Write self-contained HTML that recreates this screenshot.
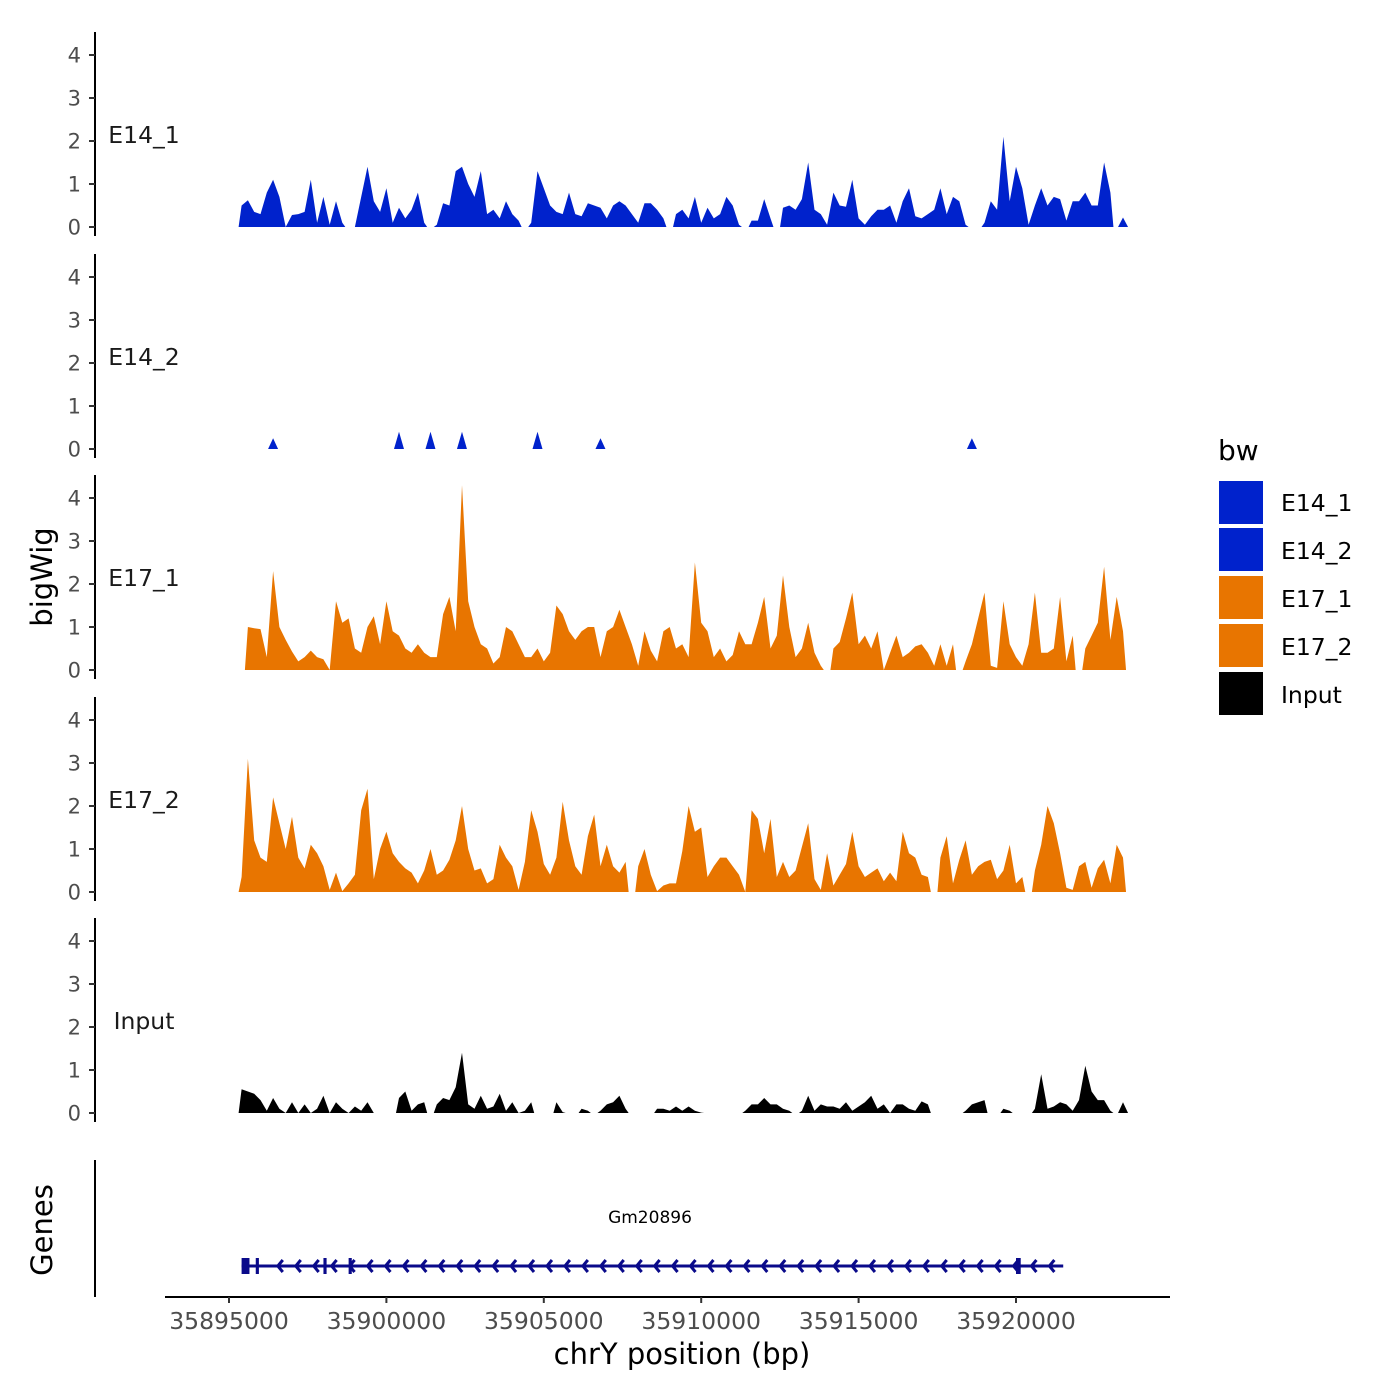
<!DOCTYPE html>
<html><head><meta charset="utf-8"><style>
body{margin:0;background:#fff;}
svg{display:block;font-family:"DejaVu Sans","Liberation Sans",sans-serif;}
</style></head><body>
<svg id="chart" width="1400" height="1400" viewBox="0 0 1400 1400" xmlns="http://www.w3.org/2000/svg">
<g id="tracks"></g>
<g id="genes"></g>
<g id="xaxis"></g>
<text x="52" y="577" font-size="29" text-anchor="middle" transform="rotate(-90 52 577)" fill="#000">bigWig</text>
<text x="52" y="1230" font-size="29" text-anchor="middle" transform="rotate(-90 52 1230)" fill="#000">Genes</text>
<text x="682" y="1364" font-size="29" text-anchor="middle" fill="#000">chrY position (bp)</text>
<g>
<text x="1218" y="460" font-size="28">bw</text>
<rect x="1219" y="481" width="44" height="43" fill="#0022CC"/>
<rect x="1219" y="528" width="44" height="43" fill="#0022CC"/>
<rect x="1219" y="576" width="44" height="43" fill="#E87500"/>
<rect x="1219" y="624" width="44" height="43" fill="#E87500"/>
<rect x="1219" y="672" width="44" height="43" fill="#000"/>
<text x="1281" y="511" font-size="23.5">E14_1</text>
<text x="1281" y="559" font-size="23.5">E14_2</text>
<text x="1281" y="607" font-size="23.5">E17_1</text>
<text x="1281" y="655" font-size="23.5">E17_2</text>
<text x="1281" y="703" font-size="23.5">Input</text>
</g>
</svg>
<script>
const trackNames = ["E14_1","E14_2","E17_1","E17_2","Input"];
const trackColors = ["#0022CC","#0022CC","#E87500","#E87500","#000000"];
const binStart = 35895400;
const binWidth = 200;
const yTicks = [0,1,2,3,4];
const xTicks = [35895000,35900000,35905000,35910000,35915000,35920000];
const N = null;
const e14_1 = [0.5,0.62,0.35,0.3,0.8,1.1,0.7,0,0.28,0.3,0.35,1.1,0.1,0.7,0.05,0.6,0.1,N,0,0.7,1.4,0.6,0.35,0.9,0.1,0.45,0.2,0.4,0.8,0.1,N,0.05,0.55,0.5,1.3,1.4,1.0,0.7,1.3,0.3,0.4,0.2,0.6,0.3,0.15,N,0.1,1.3,0.9,0.5,0.35,0.3,0.8,0.3,0.25,0.55,0.5,0.45,0.2,0.5,0.6,0.5,0.3,0.1,0.55,0.55,0.4,0.2,N,0.3,0.4,0.2,0.7,0.1,0.45,0.2,0.3,0.7,0.5,0.05,N,0.15,0.15,0.65,0.2,N,0.45,0.5,0.4,0.65,1.5,0.4,0.3,0.05,0.8,0.5,0.47,1.1,0.2,0.05,0.25,0.4,0.4,0.5,0.1,0.6,0.9,0.25,0.2,0.3,0.4,0.9,0.3,0.7,0.6,0.05,N,N,0.1,0.6,0.4,2.1,0.6,1.4,0.9,0.05,0.5,0.9,0.5,0.7,0.65,0.15,0.6,0.6,0.8,0.5,0.5,1.5,0.8,N,0.22];
const e14_2 = [N,N,N,N,N,0.25,N,N,N,N,N,N,N,N,N,N,N,N,N,N,N,N,N,N,N,0.4,N,N,N,N,0.4,N,N,N,N,0.4,N,N,N,N,N,N,N,N,N,N,N,0.4,N,N,N,N,N,N,N,N,N,0.25,N,N,N,N,N,N,N,N,N,N,N,N,N,N,N,N,N,N,N,N,N,N,N,N,N,N,N,N,N,N,N,N,N,N,N,N,N,N,N,N,N,N,N,N,N,N,N,N,N,N,N,N,N,N,N,N,N,N,0.25,N,N,N,N,N,N,N,N,N,N,N,N,N,N,N,N,N,N,N,N,N,N,N,N];
const e17_1 = [N,1.0,0.97,0.95,0.3,2.3,1.0,0.7,0.43,0.2,0.3,0.45,0.3,0.25,0,1.6,1.1,1.2,0.5,0.4,1.0,1.25,0.6,1.6,0.9,0.8,0.5,0.4,0.6,0.4,0.3,0.3,1.3,1.7,0.9,4.3,1.6,1.0,0.6,0.5,0.15,0.3,1.0,0.9,0.6,0.3,0.3,0.5,0.2,0.4,1.5,1.3,0.9,0.7,0.9,1.0,1.0,0.3,0.9,1.0,1.4,1.0,0.6,0.1,0.9,0.45,0.2,0.9,1.0,0.5,0.6,0.3,2.5,1.1,0.9,0.3,0.5,0.2,0.35,0.9,0.6,0.6,1.1,1.7,0.5,0.8,2.2,1.0,0.3,0.5,1.1,0.4,0.1,N,0.5,0.65,1.2,1.8,0.6,0.8,0.5,0.9,0,0.4,0.8,0.3,0.4,0.55,0.6,0.4,0.1,0.6,0.1,0.6,N,0.2,0.6,1.2,1.8,0.1,0.05,1.6,0.6,0.3,0.1,0.6,1.8,0.4,0.4,0.5,1.7,0.2,0.8,N,0.5,0.8,1.1,2.4,0.7,1.7,0.9];
const e17_2 = [0.35,3.1,1.2,0.8,0.7,2.2,1.6,1.0,1.75,0.8,0.55,1.1,0.9,0.6,0.05,0.45,0.02,0.2,0.4,1.9,2.4,0.3,1.0,1.4,0.9,0.7,0.55,0.45,0.2,0.5,1.0,0.4,0.5,0.75,1.2,2.0,1.0,0.5,0.55,0.2,0.3,1.1,0.8,0.6,0.05,0.7,1.9,1.4,0.65,0.4,0.8,2.1,1.2,0.6,0.4,1.3,1.8,0.6,1.1,0.6,0.45,0.7,N,0.6,1.0,0.4,0.02,0.15,0.2,0.2,0.95,2.0,1.4,1.5,0.35,0.6,0.8,0.8,0.6,0.4,0,1.9,1.7,0.9,1.7,0.35,0.7,0.35,0.5,1.05,1.6,0.3,0.05,0.9,0.15,0.4,0.65,1.4,0.6,0.35,0.45,0.55,0.25,0.45,0.25,1.4,0.9,0.8,0.4,0.35,N,0.8,1.3,0.2,0.75,1.2,0.4,0.6,0.7,0.75,0.3,0.5,1.1,0.2,0.35,N,0.5,1.1,2.0,1.6,0.9,0.1,0.05,0.6,0.7,0.1,0.55,0.75,0.2,1.1,0.8];
const input = [0.55,0.5,0.45,0.3,0.05,0.35,0.1,0,0.25,0,0.2,0,0.1,0.4,0,0.25,0.1,0,0.15,0.05,0.25,0,N,N,N,0.35,0.5,0.05,0.2,0.25,N,0.2,0.35,0.3,0.6,1.4,0.2,0.1,0.4,0.1,0.15,0.45,0.05,0.25,0,0.05,0.25,N,N,N,0.25,0.02,N,N,0.1,0.05,N,0.05,0.2,0.25,0.4,0.1,N,N,N,N,0.1,0.1,0.05,0.15,0.05,0.15,0.05,0.01,N,N,N,N,N,N,0.05,0.2,0.2,0.35,0.2,0.2,0.1,0.05,N,0.05,0.4,0.05,0.2,0.15,0.15,0.1,0.25,0.05,0.15,0.25,0.4,0.1,0.2,0,0.2,0.2,0.1,0.05,0.27,0.2,N,N,N,N,N,0.05,0.2,0.25,0.3,N,N,0.1,0.05,N,N,N,0.1,0.9,0.1,0.15,0.25,0.2,0.05,0.3,1.1,0.5,0.3,0.3,0.05,N,0.25];
const trackData = [e14_1,e14_2,e17_1,e17_2,input];
const geneExons = [[35895400,35895650],[35895850,35895950],[35898000,35898100],[35898800,35898900],[35920000,35920150]];
const geneStart = 35895400, geneEnd = 35921500;

const NS = "http://www.w3.org/2000/svg";
function xs(bp){ return 229 + (bp - 35895000) * 787 / 25000; }
const trackZero = [227,449,670,892,1113];
const unitPx = 43;
function ys(t, v){ return trackZero[t] - v * unitPx; }
function mk(tag, attrs, parent){ const e = document.createElementNS(NS, tag); for (const k in attrs) e.setAttribute(k, attrs[k]); parent.appendChild(e); return e; }

const tg = document.getElementById("tracks");
trackData.forEach((vals, t) => {
  const g = mk("g", {}, tg);
  
  
  const ax = mk("line", {x1:95, x2:95, y1:trackZero[t]-195, y2:trackZero[t]+9, stroke:"#000", "stroke-width":2}, g);
  
  
  yTicks.forEach(v => {
    const y = ys(t, v);
    const tk = mk("line", {x1:89, x2:95, y1:y, y2:y, stroke:"#333", "stroke-width":2}, g);
    
    
    const tl = mk("text", {x:81, y:y+7.5, "font-size":21, "text-anchor":"end", fill:"#4d4d4d"}, g);
    tl.textContent = v;
    
    
  });
  const lab = mk("text", {x:144, y:trackZero[t]-84, "font-size":23.5, "text-anchor":"middle", fill:"#1a1a1a"}, g);
  lab.textContent = trackNames[t];
  
  
  let seg = [];
  const flush = () => {
    if (!seg.length) return;
    const pad = seg.length === 1 ? 5 : 3;
    const x0 = xs(binStart + seg[0][0]*binWidth) - pad, x1 = xs(binStart + seg[seg.length-1][0]*binWidth) + pad;
    let d = "M" + x0 + "," + trackZero[t];
    seg.forEach(([i,v]) => { d += " L" + xs(binStart + i*binWidth).toFixed(1) + "," + ys(t, v).toFixed(1); });
    d += " L" + x1 + "," + trackZero[t] + " Z";
    const p = mk("path", {d:d, fill:trackColors[t]}, g);
    
    
    seg = [];
  };
  vals.forEach((v, i) => { if (v === null) flush(); else seg.push([i, v]); });
  flush();
});

const gg = document.getElementById("genes");
const gax = mk("line", {x1:95, x2:95, y1:1160, y2:1297, stroke:"#000", "stroke-width":2}, gg);


const gl = mk("line", {x1:xs(geneStart), x2:xs(geneEnd), y1:1266, y2:1266, stroke:"#0a0a8a", "stroke-width":3}, gg);


for (let bp = geneStart + 1150; bp < geneEnd - 100; bp += 570) {
  const x = xs(bp);
  const a = mk("path", {d:`M${x+5},${1260} L${x},${1266} L${x+5},${1272}`, fill:"none", stroke:"#0a0a8a", "stroke-width":3}, gg);
  
  
}
geneExons.forEach(([s,e]) => {
  const r = mk("rect", {x:xs(s), y:1258, width:Math.max(3, xs(e)-xs(s)), height:16, fill:"#0a0a8a"}, gg);
  
  
});
const gname = mk("text", {x:650, y:1223, "font-size":17, "text-anchor":"middle", fill:"#000"}, gg);
gname.textContent = "Gm20896";



const xg = document.getElementById("xaxis");
const xl = mk("line", {x1:165, x2:1170, y1:1297, y2:1297, stroke:"#000", "stroke-width":2}, xg);


xTicks.forEach(v => {
  const x = xs(v);
  const tk = mk("line", {x1:x, x2:x, y1:1297, y2:1303, stroke:"#333", "stroke-width":2}, xg);
  
  
  const tl = mk("text", {x:x, y:1329, "font-size":23.5, "text-anchor":"middle", fill:"#4d4d4d"}, xg);
  tl.textContent = v;
  
  
});
</script>
</body></html>
